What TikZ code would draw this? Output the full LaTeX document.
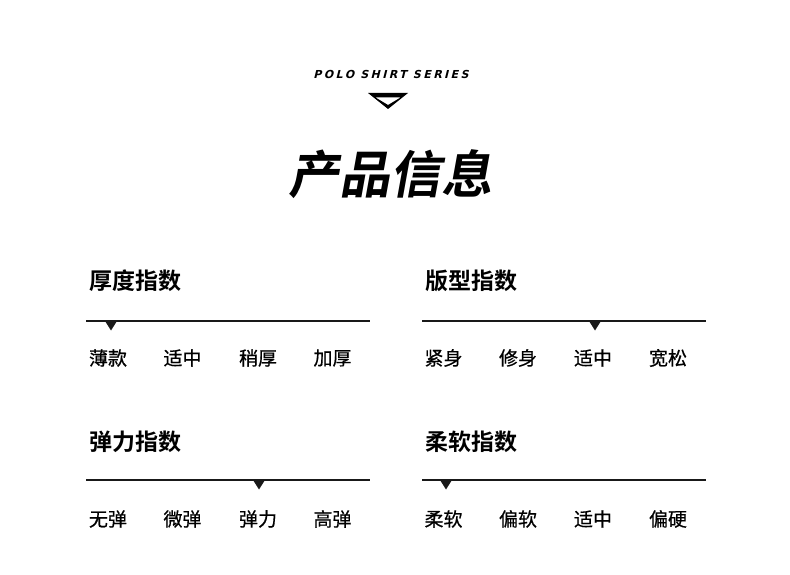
\documentclass[tikz,border=0pt]{standalone}
\usepackage{fontspec}
\usetikzlibrary{positioning}
\newfontfamily\cjk[FakeBold=0.6]{Noto Sans CJK SC}
\newfontfamily\cjkbold{Noto Sans CJK SC Bold}
\newfontfamily\cjktitle[FakeSlant=0.18]{Noto Sans CJK SC Bold}
\newfontfamily\serieslat[FakeSlant=0.25,LetterSpace=22]{DejaVu Sans Bold}
\tikzset{
	heading/.style={anchor=west, inner sep=0pt, font=\cjkbold\fontsize{23}{23}\selectfont},
	option/.style={inner sep=0pt, font=\cjk\fontsize{19}{19}\selectfont},
	scale line/.style={line width=1.2pt, black!90},
	marker/.style={fill=black!90}
}
\begin{document}
\begin{tikzpicture}[x=1pt, y=-1pt]
	\useasboundingbox (0,0) rectangle (790,575);

	% top part
	\node[inner sep=0pt, font=\serieslat\fontsize{11}{11}\selectfont] (series) at (391,74) {POLO SHIRT SERIES};
	\fill[even odd rule] (368,93) -- (408,93) -- (388,109) -- cycle
		(375.5,97.5) -- (400.5,97.5) -- (388,105) -- cycle;
	\node[inner sep=0pt, font=\cjktitle\fontsize{51}{51}\selectfont] (title) at (390,174) {产品信息};

	% thickness
	\node[heading] (thick) at (89,281) {厚度指数};
	\coordinate (t1) at (86,321);
	\coordinate (t2) at (370,321);
	\draw[scale line] (t1) -- (t2);
	\fill[marker] (105,321) -- (117,321) -- (111,330.5) -- cycle;
	\node[option] (thin) at (108,358) {薄款};
	\node[option] (tmid) at (182.5,358) {适中};
	\node[option] (tsome) at (258,358) {稍厚};
	\node[option] (tthick) at (332.5,358) {加厚};

	% fit
	\node[heading] (fit) at (425,281) {版型指数};
	\coordinate (f1) at (422,321);
	\coordinate (f2) at (706,321);
	\draw[scale line] (f1) -- (f2);
	\fill[marker] (589,321) -- (601,321) -- (595,330.5) -- cycle;
	\node[option] (tight) at (443.5,358) {紧身};
	\node[option] (slim) at (518,358) {修身};
	\node[option] (fmid) at (593,358) {适中};
	\node[option] (loose) at (668,358) {宽松};

	% elasticity
	\node[heading] (elastic) at (89,442) {弹力指数};
	\coordinate (e1) at (86,480);
	\coordinate (e2) at (370,480);
	\draw[scale line] (e1) -- (e2);
	\fill[marker] (253,480) -- (265,480) -- (259,489.5) -- cycle;
	\node[option] (enone) at (108,519) {无弹};
	\node[option] (elow) at (182.5,519) {微弹};
	\node[option] (emid) at (258,519) {弹力};
	\node[option] (ehigh) at (332.5,519) {高弹};

	% softness
	\node[heading] (soft) at (425,442) {柔软指数};
	\coordinate (s1) at (422,480);
	\coordinate (s2) at (706,480);
	\draw[scale line] (s1) -- (s2);
	\fill[marker] (440,480) -- (452,480) -- (446,489.5) -- cycle;
	\node[option] (svery) at (443.5,519) {柔软};
	\node[option] (ssoft) at (518,519) {偏软};
	\node[option] (smid) at (593,519) {适中};
	\node[option] (shard) at (668,519) {偏硬};
\end{tikzpicture}
\end{document}
